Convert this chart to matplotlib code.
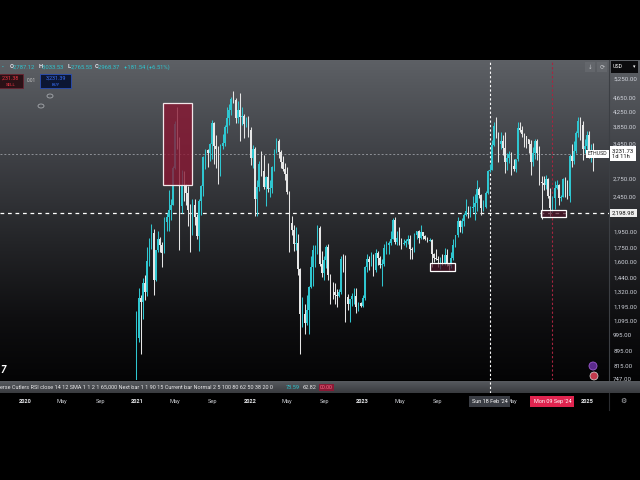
import numpy as np
import pandas as pd
import matplotlib
matplotlib.use("Agg")
import matplotlib.pyplot as plt
import matplotlib.dates as mdates
from matplotlib.patches import Rectangle, Ellipse
from matplotlib.transforms import blended_transform_factory

plt.rcParams['font.family'] = ['Roboto', 'DejaVu Sans']

# weekly ETHUSD candles, first week starts 2020-12-28 (open of each week = previous close)
first_open = 737
close_2021 = [975, 1262, 1232, 1391, 1314, 1612, 1781, 1935, 1417, 1724, 1853, 1781, 1691, 2075, 2135, 2234,
              2317, 2947, 3928, 3581, 2296, 2633, 2630, 2507, 2244, 2087, 2316, 2140, 1894, 2380, 2612, 3164,
              3310, 3245, 3432, 3942, 3402, 3329, 2922, 3393, 3470, 3848, 4066, 4288, 4612, 4566, 4085, 4295,
              4090, 4140, 3930, 4065, 3769]
high_2021 = [1163, 1350, 1290, 1440, 1470, 1760, 1870, 2040, 1980, 1730, 1950, 1880, 1820, 2140, 2200, 2550,
             2400, 2980, 4000, 4380, 3600, 2900, 2890, 2660, 2620, 2330, 2400, 2410, 2190, 2400, 2640, 3180,
             3330, 3340, 3470, 4030, 3980, 3650, 3400, 3450, 3680, 3900, 4370, 4450, 4660, 4870, 4650, 4550,
             4780, 4380, 4190, 4100, 4130]
low_2021 = [714, 950, 880, 1100, 1250, 1280, 1560, 1740, 1290, 1410, 1700, 1700, 1550, 1690, 1950, 1950,
            2100, 2310, 2930, 3320, 1730, 2200, 2370, 2310, 2020, 1700, 1900, 2030, 1850, 1720, 2170, 2460,
            2930, 2960, 3080, 3120, 3030, 2950, 2650, 2800, 3330, 3390, 3700, 3900, 4150, 4500, 3950, 3950,
            3500, 3900, 3570, 3850, 3600]

close_2022 = [3150, 3327, 2410, 2607, 3016, 2884, 2598, 2780, 2566, 2590, 2962, 3304, 3519, 3260, 3056, 2922,
              2830, 2525, 2057, 1973, 1800, 1805, 1530, 1142, 1142, 1073, 1166, 1356, 1549, 1725, 1730, 1997,
              1578, 1489, 1621, 1761, 1470, 1313, 1312, 1290, 1278, 1315, 1625, 1610, 1273, 1219, 1253, 1280,
              1280, 1189, 1221, 1200]
high_2022 = [3840, 3420, 3370, 2730, 3090, 3280, 3200, 2800, 3050, 2730, 2990, 3320, 3580, 3550, 3310, 3190,
             3040, 2960, 2530, 2160, 2030, 2010, 1920, 1540, 1270, 1220, 1290, 1370, 1660, 1780, 1780, 2030,
             2020, 1720, 1660, 1790, 1800, 1480, 1400, 1390, 1340, 1340, 1660, 1680, 1670, 1300, 1260, 1310,
             1350, 1350, 1230, 1235]
low_2022 = [3000, 2950, 2160, 2160, 2530, 2800, 2560, 2300, 2520, 2440, 2500, 2890, 3240, 3150, 2950, 2880,
            2720, 2480, 1710, 1900, 1720, 1730, 1470, 880, 1050, 1000, 1060, 1000, 1350, 1370, 1550, 1680,
            1560, 1450, 1420, 1540, 1420, 1220, 1260, 1220, 1190, 1270, 1300, 1500, 1080, 1170, 1080, 1200,
            1220, 1150, 1160, 1190]

close_2023 = [1265, 1547, 1627, 1600, 1634, 1515, 1694, 1640, 1565, 1573, 1747, 1780, 1808, 1860, 2093, 1818,
              1870, 1850, 1800, 1806, 1830, 1860, 1740, 1722, 1900, 1955, 1865, 1936, 1890, 1855, 1833, 1845,
              1681, 1645, 1634, 1616, 1621, 1590, 1671, 1580, 1556, 1638, 1785, 1899, 2081, 2012, 2089, 2168,
              2229, 2222, 2265, 2282]
high_2023 = [1290, 1560, 1680, 1660, 1710, 1680, 1740, 1720, 1660, 1630, 1800, 1830, 1830, 1950, 2130, 2140,
             1960, 2000, 1870, 1860, 1860, 1900, 1900, 1760, 1930, 1960, 1970, 2030, 1940, 1900, 1880, 1870,
             1860, 1690, 1740, 1660, 1650, 1680, 1750, 1740, 1590, 1700, 1860, 1910, 2140, 2100, 2130, 2200,
             2400, 2300, 2300, 2450]
low_2023 = [1190, 1250, 1500, 1520, 1560, 1460, 1500, 1570, 1540, 1370, 1560, 1680, 1680, 1780, 1850, 1800,
            1780, 1780, 1740, 1790, 1760, 1800, 1630, 1630, 1710, 1860, 1810, 1860, 1850, 1840, 1820, 1830,
            1550, 1600, 1620, 1550, 1530, 1570, 1570, 1560, 1520, 1540, 1620, 1760, 1880, 1940, 1930, 2020,
            2160, 2120, 2140, 2210]

close_2024 = [2352, 2567, 2469, 2272, 2289, 2500, 2881, 2913, 3420, 3875, 3679, 3450, 3505, 3353, 3055, 3140,
              3218, 2988, 2930, 3111, 3830, 3780, 3680, 3620, 3550, 3430, 3065, 3240, 3510, 3250, 2690, 2670,
              2630, 2740, 2450, 2275, 2430, 2590, 2640, 2415, 2440, 2740, 2510, 2460, 3180, 3075, 3280, 3700,
              3990, 3900, 3320, 3400, 3650]
high_2024 = [2480, 2720, 2600, 2480, 2390, 2540, 2900, 3030, 3520, 3970, 4100, 3730, 3730, 3650, 3730, 3240,
             3290, 3260, 3130, 3130, 3980, 3970, 3880, 3700, 3630, 3560, 3520, 3380, 3560, 3550, 3400, 2800,
             2800, 2820, 2750, 2580, 2460, 2700, 2730, 2660, 2470, 2760, 2770, 2720, 3230, 3440, 3500, 3740,
             4110, 4100, 4000, 3550, 3740]
low_2024 = [2100, 2230, 2420, 2170, 2220, 2270, 2490, 2860, 2900, 3400, 3580, 3060, 3330, 3210, 2850, 2900,
            3050, 2810, 2880, 2870, 3080, 3730, 3600, 3370, 3360, 3240, 2820, 2980, 3120, 3100, 2630, 2110,
            2550, 2560, 2420, 2150, 2210, 2260, 2560, 2310, 2380, 2440, 2440, 2400, 2360, 2960, 3030, 3250,
            3600, 3520, 3100, 3250, 3330]

close_2025 = [3270, 3310, 3231.73]
high_2025 = [3740, 3440, 3470]
low_2025 = [3150, 3060, 2880]

price_ticks = [5250, 4650, 4250, 3850, 3450, 2750, 2450, 1950, 1750, 1600, 1440, 1320, 1195, 1095,
               995, 895, 815, 747]
last_price = 3231.73
level_price = 2198.98
crosshair_day = "2024-02-18"
marker_day = "2024-09-09"

red_zone = ("2021-03-24", "2021-06-26", 2636, 4490)
white_zones = [("2023-08-08", "2023-10-28", 1507, 1588),
               ("2024-08-03", "2024-10-23", 2140, 2240)]

time_labels = [("2020-01-01", "2020"), ("2020-05-01", "May"), ("2020-09-01", "Sep"),
               ("2021-01-01", "2021"), ("2021-05-01", "May"), ("2021-09-01", "Sep"),
               ("2022-01-01", "2022"), ("2022-05-01", "May"), ("2022-09-01", "Sep"),
               ("2023-01-01", "2023"), ("2023-05-01", "May"), ("2023-09-01", "Sep"),
               ("2024-05-01", "May"), ("2025-01-01", "2025")]

close = np.array(close_2021 + close_2022 + close_2023 + close_2024 + close_2025, float)
high = np.array(high_2021 + high_2022 + high_2023 + high_2024 + high_2025, float)
low = np.array(low_2021 + low_2022 + low_2023 + low_2024 + low_2025, float)
opens = np.concatenate([[first_open], close[:-1]])
high = np.maximum(high, np.maximum(opens, close))
low = np.minimum(low, np.minimum(opens, close))
dates = pd.date_range("2020-12-28", periods=len(close), freq="7D")
x = mdates.date2num(dates)


def d(s):
    return mdates.date2num(pd.Timestamp(s))


xlim = (d("2019-10-12"), d("2025-03-12"))
UP = "#2fc6d0"
DOWN = "#e6e6e6"

fig = plt.figure(figsize=(6.4, 4.8), dpi=100)
fig.patch.set_facecolor("black")


def fx(px):
    return px / 640


def fy(py):
    return 1 - py / 480


# background gradient of the chart pane
ax_bg = fig.add_axes([0, fy(380), 1, 320 / 480])
ax_bg.set_zorder(0)
rows = np.arange(60, 380)
anchors_y = [60, 150, 240, 320, 380]
grad = np.stack([np.interp(rows, anchors_y, [93, 64, 36, 14, 4]),
                 np.interp(rows, anchors_y, [96, 66, 37, 14, 4]),
                 np.interp(rows, anchors_y, [101, 71, 40, 16, 5])], axis=1) / 255
ax_bg.imshow(grad[:, None, :], aspect="auto", extent=(0, 1, 0, 1))
ax_bg.axis("off")

ax = fig.add_axes([0, fy(380), fx(609), 320 / 480])
ax.set_zorder(1)
ax.patch.set_alpha(0)
ax.set_yscale("log")
ax.set_xlim(*xlim)
ax.set_ylim(742, 5940)

up = close >= opens
cols = np.where(up, UP, DOWN)
ax.vlines(x, low, high, colors=cols, linewidth=0.75, zorder=3)
ax.bar(x, np.abs(close - opens), bottom=np.minimum(opens, close), width=5.0,
       color=cols, linewidth=0, zorder=3)

# zones
x0, x1, p0, p1 = red_zone
ax.add_patch(Rectangle((d(x0), p0), d(x1) - d(x0), p1 - p0, facecolor="#8a1632",
                       alpha=0.78, edgecolor="none", zorder=4))
ax.add_patch(Rectangle((d(x0), p0), d(x1) - d(x0), p1 - p0, fill=False,
                       edgecolor="#f2e6e9", linewidth=0.9, zorder=5))
for z0, z1, q0, q1 in white_zones:
    ax.add_patch(Rectangle((d(z0), q0), d(z1) - d(z0), q1 - q0, facecolor="#4a1024",
                           alpha=0.7, edgecolor="none", zorder=4))
    ax.add_patch(Rectangle((d(z0), q0), d(z1) - d(z0), q1 - q0, fill=False,
                           edgecolor="white", linewidth=0.9, zorder=5))

ax.axhline(last_price, color="#8e9197", lw=0.7, ls=(0, (2, 2)), zorder=2)
ax.axhline(level_price, color="white", lw=0.9, ls=(0, (3, 3)), zorder=2)
ax.axvline(d(crosshair_day), color="white", lw=0.8, ls=(0, (2, 2)), zorder=2)
ax.axvline(d(marker_day), color="#a8243f", lw=0.8, ls=(0, (2, 2)), zorder=2)

ax.yaxis.tick_right()
ax.set_yticks(price_ticks)
ax.set_yticklabels([f"{v:,.2f}" for v in price_ticks])
ax.yaxis.set_minor_locator(matplotlib.ticker.NullLocator())
ax.tick_params(axis="y", length=0, pad=3, labelsize=4.4, labelcolor="#d1d4dc")
ax.set_xticks([])
for side in ["top", "left", "bottom"]:
    ax.spines[side].set_visible(False)
ax.spines["right"].set_color("#3c3f44")
ax.spines["right"].set_linewidth(0.8)

tr = blended_transform_factory(ax.transAxes, ax.transData)
ax.text(1 + 3 / 609, last_price, "3,231.73\n1d 11h", transform=tr, ha="left", va="center",
        fontsize=4.2, color="#111111", linespacing=1.15, clip_on=False, zorder=6,
        bbox=dict(boxstyle="square,pad=0.35", facecolor="white", edgecolor="none"))
ax.text(1 - 2 / 609, last_price, "ETHUSD", transform=tr, ha="right", va="center",
        fontsize=3.8, color="#222222", clip_on=False, zorder=6,
        bbox=dict(boxstyle="square,pad=0.3", facecolor="white", edgecolor="none"))
ax.text(1 + 3 / 609, level_price, "2,198.98", transform=tr, ha="left", va="center",
        fontsize=4.3, color="#111111", clip_on=False, zorder=6,
        bbox=dict(boxstyle="square,pad=0.3", facecolor="#eeeeee", edgecolor="none"))

# header line
hdr = [(10, "O", "#e0e3eb"), (13, "2,787.12", UP), (39, "H", "#e0e3eb"), (42, "3,033.53", UP),
       (68, "L", "#e0e3eb"), (71, "2,765.55", UP), (95, "C", "#e0e3eb"), (98, "2,968.37", UP),
       (124, "+181.54 (+6.51%)", UP)]
for px, s, c in hdr:
    fig.text(fx(px), fy(67), s, fontsize=4.2, color=c, va="center", weight="bold" if len(s) == 1 else "normal")
fig.text(fx(2), fy(67), "•", fontsize=4, color=UP, va="center")

# sell / buy boxes
fig.patches.append(Rectangle((fx(-2), fy(88)), fx(25), 14 / 480, transform=fig.transFigure,
                             facecolor="#2a1116", edgecolor="#6a2230", linewidth=0.6, zorder=5))
fig.text(fx(11), fy(78), ",231.38", fontsize=3.9, color="#f23645", ha="center", va="center", zorder=6)
fig.text(fx(11), fy(85), "SELL", fontsize=3.2, color="#f23645", ha="center", va="center", zorder=6)
fig.text(fx(31), fy(81), "0.01", fontsize=3.4, color="#c8c8c8", ha="center", va="center", zorder=6)
fig.patches.append(Rectangle((fx(40), fy(88)), fx(31), 14 / 480, transform=fig.transFigure,
                             facecolor="#0c1633", edgecolor="#2a4fb8", linewidth=0.6, zorder=5))
fig.text(fx(55.5), fy(78), "3,231.39", fontsize=3.9, color="#3a72ff", ha="center", va="center", zorder=6)
fig.text(fx(55.5), fy(85), "BUY", fontsize=3.2, color="#3a72ff", ha="center", va="center", zorder=6)
for ex, ey in [(50, 96), (41, 106)]:
    fig.patches.append(Ellipse((fx(ex), fy(ey)), 6 / 640, 4 / 480, transform=fig.transFigure,
                               fill=False, edgecolor="#a6a9ae", linewidth=0.6, zorder=5))

# top right controls
for bx in [585, 597]:
    fig.patches.append(Rectangle((fx(bx), fy(72)), 10 / 640, 10 / 480, transform=fig.transFigure,
                                 facecolor="#6a6d72", edgecolor="none", alpha=0.6, zorder=5))
fig.text(fx(590), fy(67), "↓", fontsize=4, color="#c4c6ca", ha="center", va="center", zorder=6)
fig.text(fx(602), fy(67), "⟳", fontsize=4.5, color="#c4c6ca", ha="center", va="center", zorder=6)
fig.patches.append(Rectangle((fx(611), fy(73)), 27 / 640, 12 / 480, transform=fig.transFigure,
                             facecolor="#0b0b0d", edgecolor="none", zorder=5))
fig.text(fx(613), fy(67), "USD", fontsize=3.8, color="white", va="center", zorder=6)
fig.text(fx(634), fy(67), "▾", fontsize=3.5, color="white", ha="center", va="center", zorder=6)

# logo and small icons
fig.text(fx(0), fy(370), "7", fontsize=7, color="white", weight="bold", style="italic", va="center")
fig.patches.append(Ellipse((fx(593), fy(366)), 8 / 640, 8 / 480, transform=fig.transFigure,
                           facecolor="#5b2a8c", edgecolor="#9b59d0", linewidth=0.6, zorder=5))
fig.patches.append(Ellipse((fx(594), fy(376)), 8 / 640, 8 / 480, transform=fig.transFigure,
                           facecolor="#c23a4c", edgecolor="#e0e0e0", linewidth=0.5, zorder=5))

# indicator strip
ax_s = fig.add_axes([0, fy(393), 1, 12 / 480])
ax_s.set_zorder(2)
srows = np.linspace(0, 1, 12)
sgrad = np.stack([np.interp(srows, [0, 1], [86, 58]), np.interp(srows, [0, 1], [89, 60]),
                  np.interp(srows, [0, 1], [94, 64])], axis=1) / 255
ax_s.imshow(sgrad[:, None, :], aspect="auto", extent=(0, 1, 0, 1))
ax_s.axis("off")
ax_s.text(0, 0.45, "erse Cutlers RSI close 14 12 SMA 1 1 2 1 65,000 Next bar 1 1 90 15 Current bar Normal "
          "2 5 100 80 62 50 38 20 0", fontsize=4.0, color="#e8e8ea", va="center", transform=ax_s.transAxes)
ax_s.text(fx(286), 0.45, "73.59", fontsize=4.0, color=UP, va="center", transform=ax_s.transAxes)
ax_s.text(fx(303), 0.45, "62.82", fontsize=4.0, color="#e8e8ea", va="center", transform=ax_s.transAxes)
ax_s.text(fx(320), 0.45, "00.00", fontsize=3.9, color="#ff6b8a", va="center", transform=ax_s.transAxes,
          bbox=dict(boxstyle="square,pad=0.25", facecolor="#8a1a35", edgecolor="none"))

ax_sl = fig.add_axes([0, fy(393), fx(609), 12 / 480])
ax_sl.set_zorder(3)
ax_sl.patch.set_alpha(0)
ax_sl.set_xlim(*xlim)
ax_sl.axvline(d(crosshair_day), color="white", lw=0.8, ls=(0, (2, 2)))
ax_sl.axis("off")

# time axis
ax_t = fig.add_axes([0, fy(410), fx(609), 17 / 480])
ax_t.set_zorder(2)
ax_t.patch.set_alpha(0)
ax_t.set_xlim(*xlim)
ax_t.set_ylim(0, 1)
ax_t.axis("off")
ttr = blended_transform_factory(ax_t.transData, ax_t.transAxes)
for day, lab in time_labels:
    year = lab.isdigit()
    ax_t.text(d(day), 0.5, lab, transform=ttr, ha="center", va="center", fontsize=4.1,
              color="#e6e7ea" if year else "#c9cbd0", weight="bold" if year else "normal")
ax_t.text(d(crosshair_day), 0.5, "Sun 18 Feb '24", transform=ttr, ha="center", va="center",
          fontsize=4.0, color="white", zorder=5,
          bbox=dict(boxstyle="square,pad=0.55", facecolor="#3a3d44", edgecolor="none"))
ax_t.text(d(marker_day), 0.5, "Mon 09 Sep '24", transform=ttr, ha="center", va="center",
          fontsize=4.0, color="white", zorder=5,
          bbox=dict(boxstyle="square,pad=0.55", facecolor="#e0244f", edgecolor="none"))
fig.text(fx(623), fy(401), "⚙", fontsize=5, color="#b8bbc0", ha="center", va="center")
fig.add_artist(plt.Line2D([fx(609), fx(609)], [fy(410), fy(393)], color="#2a2c30", lw=0.8))

fig.savefig("out.png", dpi=100, facecolor=fig.get_facecolor())
